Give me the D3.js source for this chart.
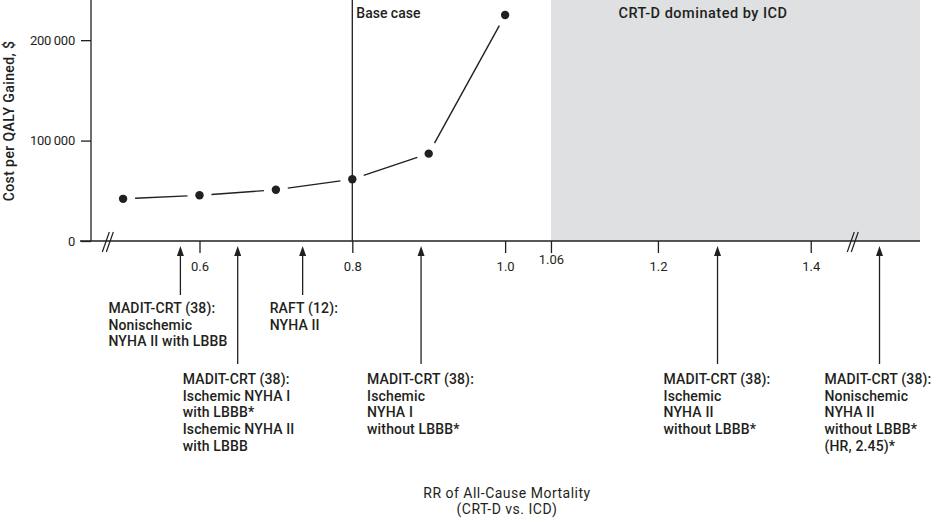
<!DOCTYPE html>
<html>
<head>
<meta charset="utf-8">
<script src="https://cdn.jsdelivr.net/npm/d3@7"></script>
<style>
  html, body { margin: 0; padding: 0; background: #fff; }
  svg { display: block; }
  text { font-family: Roboto, "Open Sans", sans-serif; fill: #231f20; }
</style>
</head>
<body>
<div id="chart"></div>
<script>
// ---- Data ----
const rrValues = [0.5, 0.6, 0.7, 0.8, 0.9, 1.0];
const costValues = [42000, 45500, 51000, 61500, 87000, 225000];

const xTickValues = [0.6, 0.8, 1.0, 1.06, 1.2, 1.4];
const xTickLabels = ["0.6", "0.8", "1.0", "1.06", "1.2", "1.4"];
const yTickValues = [0, 100000, 200000];
const yTickLabels = ["0", "100\u2009000", "200\u2009000"];

const baseCaseRR = 0.8;
const dominatedFromRR = 1.06;
const breakRR = [0.48, 1.455];

// Trial annotations (RR position on the axis; last one sits beyond the axis break)
const annotRR = [0.575, 0.65, 0.735, 0.89, 1.278, 1.49];
const annotLines = [
  ["MADIT-CRT (38):", "Nonischemic", "NYHA II with LBBB"],
  ["MADIT-CRT (38):", "Ischemic NYHA I", "with LBBB*", "Ischemic NYHA II", "with LBBB"],
  ["RAFT (12):", "NYHA II"],
  ["MADIT-CRT (38):", "Ischemic", "NYHA I", "without LBBB*"],
  ["MADIT-CRT (38):", "Ischemic", "NYHA II", "without LBBB*"],
  ["MADIT-CRT (38):", "Nonischemic", "NYHA II", "without LBBB*", "(HR, 2.45)*"]
];
const annotTier = [1, 2, 1, 2, 2, 2];
const annotDx = [-72, -55, -33, -54, -54, -55];

// ---- Layout ----
const W = 933, H = 518;
const ink = "#231f20";
const svg = d3.select("#chart").append("svg").attr("width", W).attr("height", H);

const x = d3.scaleLinear().domain([0.458, 1.543]).range([91, 920]);
const y = d3.scaleLinear().domain([0, 240000]).range([241, 0]);

// dominated region
svg.append("rect")
  .attr("x", x(dominatedFromRR)).attr("y", y.range()[1])
  .attr("width", x.range()[1] - x(dominatedFromRR))
  .attr("height", y(0) - y.range()[1])
  .attr("fill", "#dfe0e2");

svg.append("text")
  .attr("x", 703)
  .attr("y", 18)
  .attr("text-anchor", "middle")
  .attr("font-size", 14.5).attr("font-weight", 500).attr("letter-spacing", 0.5)
  .text("CRT-D dominated by ICD");

// Y axis
const yAxis = d3.axisLeft(y).tickValues(yTickValues).tickSize(10).tickPadding(6)
  .tickFormat((d, i) => yTickLabels[i]);
const gy = svg.append("g").attr("transform", `translate(${x.range()[0]},0)`).call(yAxis);
gy.select(".domain").remove();
gy.append("line").attr("x1", 0).attr("x2", 0).attr("y1", 0).attr("y2", y(0)).attr("stroke", ink).attr("stroke-width", 1.3);
gy.selectAll(".tick line").attr("stroke", ink).attr("stroke-width", 1.3);
gy.selectAll(".tick text").attr("font-size", 13).attr("font-family", "Roboto, sans-serif").attr("fill", ink).attr("letter-spacing", -0.2);

svg.append("text")
  .attr("transform", `translate(14, ${121}) rotate(-90)`)
  .attr("text-anchor", "middle")
  .attr("font-size", 14).attr("font-weight", 500).attr("letter-spacing", 0.4)
  .text("Cost per QALY Gained, $");

// X axis
const xAxis = d3.axisBottom(x).tickValues(xTickValues).tickSize(12).tickPadding(9)
  .tickFormat((d, i) => xTickLabels[i]);
const gx = svg.append("g").attr("transform", `translate(0,${y(0)})`).call(xAxis);
gx.select(".domain").remove();
gx.append("line").attr("x1", x.range()[0] - 11).attr("x2", x.range()[1]).attr("y1", 0).attr("y2", 0).attr("stroke", ink).attr("stroke-width", 1.3);
gx.selectAll(".tick line").attr("stroke", ink).attr("stroke-width", 1.3);
gx.selectAll(".tick text").attr("font-size", 13).attr("font-family", "Roboto, sans-serif").attr("fill", ink)
  .attr("dy", d => d === 1.06 ? "0.15em" : "0.71em");

// axis breaks
breakRR.forEach(b => {
  const bx = x(b);
  [-2, 2].forEach(off => {
    svg.append("line")
      .attr("x1", bx + off - 3.5).attr("y1", y(0) + 11)
      .attr("x2", bx + off + 3.5).attr("y2", y(0) - 9)
      .attr("stroke", ink).attr("stroke-width", 1.2);
  });
});

// base case line
svg.append("line")
  .attr("x1", x(baseCaseRR)).attr("x2", x(baseCaseRR))
  .attr("y1", y.range()[1]).attr("y2", y(0))
  .attr("stroke", ink).attr("stroke-width", 1.3);
svg.append("text")
  .attr("x", x(baseCaseRR) + 4).attr("y", 18)
  .attr("font-size", 14).attr("font-weight", 500)
  .text("Base case");

// data line segments with gaps
const pts = rrValues.map((r, i) => [x(r), y(costValues[i])]);
const gap = 12;
for (let i = 0; i < pts.length - 1; i++) {
  const [x0, y0] = pts[i], [x1, y1] = pts[i + 1];
  const dx = x1 - x0, dy = y1 - y0, L = Math.hypot(dx, dy);
  const ux = dx / L, uy = dy / L;
  svg.append("line")
    .attr("x1", x0 + ux * gap).attr("y1", y0 + uy * gap)
    .attr("x2", x1 - ux * gap).attr("y2", y1 - uy * gap)
    .attr("stroke", ink).attr("stroke-width", 1.4);
}
svg.selectAll("circle.pt").data(rrValues).enter().append("circle")
  .attr("class", "pt")
  .attr("cx", (d) => x(d)).attr("cy", (d, i) => y(costValues[i]))
  .attr("r", 4.2).attr("fill", ink);

// annotations
const tipY = y(0) + 5;
const tierTail = { 1: 295, 2: 364 };
const tierText = { 1: 313, 2: 384 };
const lineH = 16.7;
annotRR.forEach((r, i) => {
  const ax = x(r);
  const tail = tierTail[annotTier[i]];
  svg.append("line").attr("x1", ax).attr("x2", ax).attr("y1", tipY + 6).attr("y2", tail)
    .attr("stroke", ink).attr("stroke-width", 1.3);
  svg.append("path")
    .attr("d", `M${ax},${tipY} L${ax - 3.5},${tipY + 10} L${ax + 3.5},${tipY + 10} Z`)
    .attr("fill", ink);
  const t = svg.append("text")
    .attr("x", ax + annotDx[i]).attr("y", tierText[annotTier[i]])
    .attr("font-size", 14).attr("font-weight", 500).attr("letter-spacing", 0.15);
  annotLines[i].forEach((ln, j) => {
    t.append("tspan").attr("x", ax + annotDx[i]).attr("dy", j === 0 ? 0 : lineH).text(ln);
  });
});

// x-axis title
const xt = svg.append("text").attr("text-anchor", "middle").attr("font-size", 14).attr("font-weight", 400).attr("letter-spacing", 0.5);
xt.append("tspan").attr("x", 507).attr("y", 497.5).text("RR of All-Cause Mortality");
xt.append("tspan").attr("x", 507).attr("dy", 16.5).text("(CRT-D vs. ICD)");
</script>
</body>
</html>
